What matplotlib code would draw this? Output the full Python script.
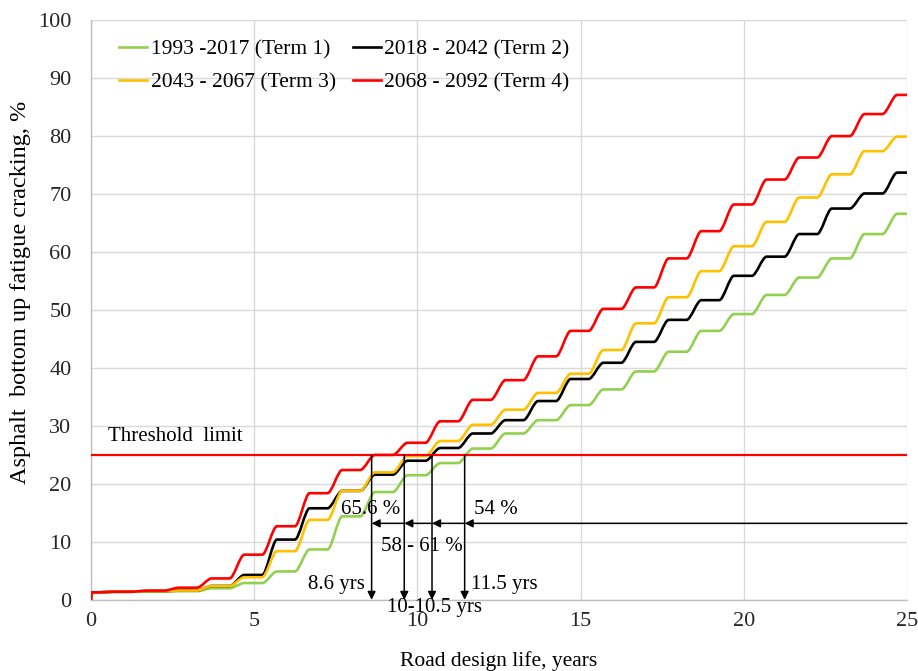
import numpy as np
import matplotlib
matplotlib.use("Agg")
import matplotlib.pyplot as plt
from matplotlib.path import Path
from matplotlib.patches import PathPatch
from matplotlib.lines import Line2D

# значения на плато каждого года (годы 0..25)
years = list(range(0, 26))
term1 = [1.3, 1.4, 1.5, 1.5, 2.0, 2.9, 4.9, 8.7, 14.4, 18.6, 21.5, 23.6, 26.1,
         28.7, 31.0, 33.6, 36.3, 39.4, 42.8, 46.4, 49.3, 52.6, 55.6, 58.9, 63.1, 66.6]
term2 = [1.3, 1.4, 1.5, 1.6, 2.4, 4.3, 10.4, 15.8, 18.8, 21.6, 24.0, 26.2, 28.7,
         31.0, 34.3, 38.1, 40.9, 44.5, 48.3, 51.7, 55.9, 59.2, 63.1, 67.5, 70.1, 73.7]
term3 = [1.3, 1.4, 1.5, 1.6, 2.4, 3.9, 8.4, 13.8, 18.8, 22.0, 24.8, 27.4, 30.2,
         32.8, 35.7, 39.0, 43.1, 47.7, 52.2, 56.7, 61.0, 65.2, 69.4, 73.4, 77.4, 79.9]
term4 = [1.3, 1.4, 1.6, 2.1, 3.7, 7.8, 12.7, 18.4, 22.4, 25.0, 27.1, 30.8, 34.5,
         37.9, 42.0, 46.4, 50.2, 53.9, 58.9, 63.6, 68.2, 72.5, 76.3, 80.0, 83.8, 87.1]
labels = ["1993 -2017 (Term 1)", "2018 - 2042 (Term 2)",
          "2043 - 2067 (Term 3)", "2068 - 2092 (Term 4)"]
colors = ["#92D050", "#000000", "#FFC000", "#FF0000"]

threshold = 25
cross_years = [8.6, 9.6, 10.45, 11.45]   # где кривые пересекают порог
arrow_level = 13.2

plt.rcParams['font.family'] = ['Liberation Serif', 'DejaVu Serif']

fig = plt.figure(figsize=(9.18, 6.71), dpi=100)
ax = fig.add_axes([0.099, 0.106, 0.889, 0.864])


def stair_path(xs, vals, x_end=25):
    # плато у каждого года + плавный подъем (безье) между ними
    verts = [(0, 0), (0.03, vals[0]), (0.25, vals[0])]
    codes = [Path.MOVETO, Path.LINETO, Path.LINETO]
    for k in range(len(xs) - 1):
        x0 = xs[k] + 0.25
        x1 = xs[k] + 0.7
        w = x1 - x0
        verts += [(x0 + 0.3 * w, vals[k]), (x1 - 0.3 * w, vals[k + 1]),
                  (x1, vals[k + 1])]
        codes += [Path.CURVE4] * 3
        verts.append((min(xs[k + 1] + 0.25, x_end), vals[k + 1]))
        codes.append(Path.LINETO)
    return Path(verts, codes)


for vals, col in zip([term1, term2, term3, term4], colors):
    ax.add_patch(PathPatch(stair_path(years, vals), fill=False,
                           edgecolor=col, lw=1.9, zorder=3))

ax.axhline(threshold, color="#FF0000", lw=1.6, zorder=4)
ax.text(2.59, 28.1, "Threshold  limit", fontsize=15, ha="center", va="center")

# вертикальные стрелки вниз
for xc in cross_years:
    ax.annotate("", xy=(xc, 0), xytext=(xc, threshold),
                arrowprops=dict(arrowstyle="-|>", color="k", lw=1.1,
                                mutation_scale=12, shrinkA=0, shrinkB=0),
                zorder=5)
# горизонтальная линия со стрелками влево
pts = [25] + cross_years[::-1]
for a, b in zip(pts[:-1], pts[1:]):
    ax.annotate("", xy=(b, arrow_level), xytext=(a, arrow_level),
                arrowprops=dict(arrowstyle="-|>", color="k", lw=1.1,
                                mutation_scale=12, shrinkA=0, shrinkB=0),
                zorder=5)

txt = dict(fontsize=15, ha="center", va="center", zorder=6)
ax.text(8.57, 15.6, "65.6 %", **txt)
ax.text(12.4, 15.6, "54 %", **txt)
ax.text(10.13, 9.2, "58 - 61 %", **txt)
ax.text(7.53, 2.6, "8.6 yrs", **txt)
ax.text(12.68, 2.6, "11.5 yrs", **txt)
ax.text(10.52, -1.4, "10-10.5 yrs", clip_on=False, **txt)

ax.set_xlim(0, 25)
ax.set_ylim(0, 100)
ax.set_xticks(range(0, 26, 5))
ax.set_yticks(range(0, 101, 10))
ax.grid(True, color="#d9d9d9", lw=1.0, zorder=0)
ax.set_axisbelow(True)
for s in ["top", "right"]:
    ax.spines[s].set_visible(False)
for s in ["left", "bottom"]:
    ax.spines[s].set_color("#bfbfbf")
    ax.spines[s].set_linewidth(1.0)
ax.tick_params(length=0, labelsize=16, colors="#262626")
ax.tick_params(axis="y", pad=14)
ax.tick_params(axis="x", pad=9)

ax.set_xlabel("Road design life, years", fontsize=15.5)
ax.xaxis.set_label_coords(0.5, -0.088)
ax.set_ylabel("Asphalt  bottom up fatigue cracking, %", fontsize=17.5)
ax.yaxis.set_label_coords(-0.073, 0.531)

handles = [Line2D([], [], color=c, lw=1.9) for c in colors]
order = [0, 2, 1, 3]
ax.legend([handles[i] for i in order], [labels[i] for i in order],
          ncol=2, loc="upper left", bbox_to_anchor=(0.035, 0.966),
          frameon=False, fontsize=15.5, handlelength=1.3, handletextpad=0.15,
          columnspacing=0.8, labelspacing=0.6, borderpad=0, borderaxespad=0)

fig.savefig("out.png", dpi=100)
